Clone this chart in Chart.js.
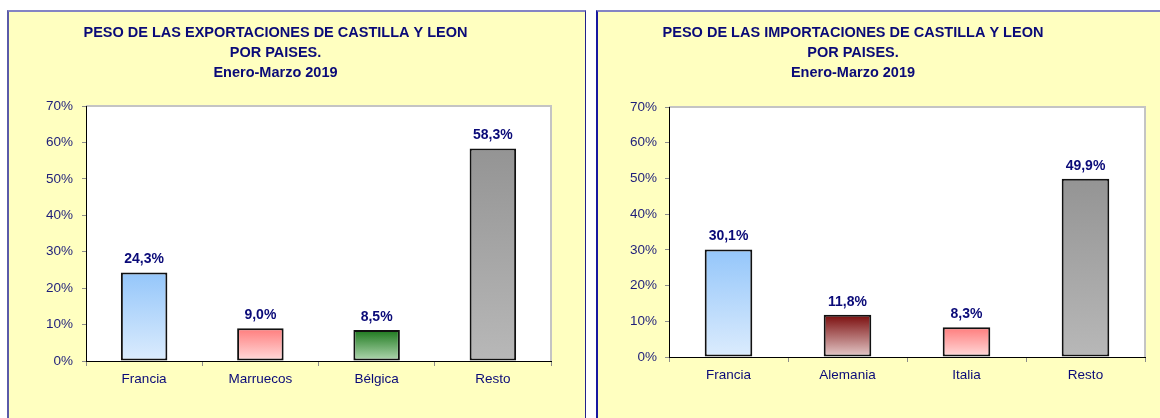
<!DOCTYPE html>
<html>
<head>
<meta charset="utf-8">
<script src="https://cdn.jsdelivr.net/npm/chart.js@4.4.0/dist/chart.umd.min.js"></script>
<style>
  body { margin: 0; width: 1160px; height: 418px; background: #fff; position: relative; overflow: hidden; }
  .panel { position: absolute; top: 10px; height: 430px; background: #ffffc0; border-top: 2px solid #8484c4; }
  #panelExp { left: 7px; width: 576px; border-left: 2px solid #5a5aa8; border-right: 1px solid #22228c; }
  #panelImp { left: 596px; width: 600px; border-left: 2px solid #1818a0; }
  canvas { position: absolute; top: 0; }
  #chartExp { left: 0; }
  #chartImp { left: 561px; }
</style>
</head>
<body>
<div class="panel" id="panelExp"></div>
<div class="panel" id="panelImp"></div>
<canvas id="chartExp" width="590" height="418"></canvas>
<canvas id="chartImp" width="599" height="418"></canvas>
<script>
// Peso de exportaciones / importaciones de Castilla y León, Enero-Marzo 2019

const expTitle = ["PESO DE LAS EXPORTACIONES DE CASTILLA Y LEON", "POR PAISES.", "Enero-Marzo 2019"];
const expCategories = ["Francia", "Marruecos", "Bélgica", "Resto"];
const expValues = [24.3, 9.0, 8.5, 58.3];

const impTitle = ["PESO DE LAS IMPORTACIONES DE CASTILLA Y LEON", "POR PAISES.", "Enero-Marzo 2019"];
const impCategories = ["Francia", "Alemania", "Italia", "Resto"];
const impValues = [30.1, 11.8, 8.3, 49.9];

const yMax = 70;
const yStep = 10;

// bar gradients, top colour -> bottom colour
const expColors = [["#94c6fa", "#dcecfd"], ["#ff7c7c", "#ffdcdc"], ["#1c781c", "#b4dab4"], ["#949494", "#b8b8b8"]];
const impColors = [["#94c6fa", "#dcecfd"], ["#7a0c0c", "#e6cccc"], ["#ff7c7c", "#ffdcdc"], ["#949494", "#b8b8b8"]];

const FONT = "Arial, 'Liberation Sans', sans-serif";
const NAVY = "#0a0a78";

function gradientFill(stops) {
    return function (c) {
        const chart = c.chart;
        const y = chart.scales.y;
        const s = stops[c.dataIndex];
        if (!chart.chartArea || !y) return s[0];
        const top = y.getPixelForValue(c.raw);
        const base = y.getPixelForValue(0);
        const g = chart.ctx.createLinearGradient(0, top, 0, base);
        g.addColorStop(0, s[0]);
        g.addColorStop(1, s[1]);
        return g;
    };
}

// white plot area with a grey frame
const plotArea = {
    id: "plotArea",
    beforeDraw(chart) {
        const { ctx, chartArea: a } = chart;
        ctx.save();
        ctx.fillStyle = "#ffffff";
        ctx.fillRect(a.left, a.top, a.right - a.left, a.bottom - a.top);
        ctx.strokeStyle = "#c4c4c4";
        ctx.lineWidth = 2;
        ctx.beginPath();
        ctx.moveTo(a.left, a.top);
        ctx.lineTo(a.right, a.top);
        ctx.lineTo(a.right, a.bottom);
        ctx.stroke();
        ctx.restore();
    }
};

// value labels above each bar
const valueLabels = {
    id: "valueLabels",
    afterDatasetsDraw(chart) {
        const ctx = chart.ctx;
        const meta = chart.getDatasetMeta(0);
        const data = chart.data.datasets[0].data;
        ctx.save();
        ctx.font = "bold 14px " + FONT;
        ctx.fillStyle = NAVY;
        ctx.textAlign = "center";
        ctx.textBaseline = "middle";
        meta.data.forEach((bar, i) => {
            const txt = data[i].toFixed(1).replace(".", ",") + "%";
            ctx.fillText(txt, bar.x, bar.y - 13);
        });
        ctx.restore();
    }
};

function makeChart(id, title, categories, values, colors, opts) {
    const ctx = document.getElementById(id).getContext("2d");
    return new Chart(ctx, {
        type: "bar",
        data: {
            labels: categories,
            datasets: [{
                data: values,
                backgroundColor: gradientFill(colors),
                borderColor: "#111111",
                borderWidth: 2,
                borderSkipped: false,
                barPercentage: 0.4,
                categoryPercentage: 1
            }]
        },
        options: {
            responsive: false,
            animation: false,
            layout: { padding: { left: 0, right: opts.right, top: 0, bottom: opts.bottom } },
            scales: {
                x: {
                    afterFit: s => { s.height = 30; },
                    grid: { drawOnChartArea: false, drawTicks: true, tickLength: 5, color: "#8c8c8c" },
                    border: { color: "#000000", width: 1 },
                    ticks: { color: NAVY, padding: 5, font: { family: FONT, size: 13.5 } }
                },
                y: {
                    min: 0,
                    max: yMax,
                    afterFit: s => { s.width = opts.yWidth; },
                    grid: { drawOnChartArea: false, drawTicks: true, tickLength: 4, color: "#8c8c8c" },
                    border: { color: "#000000", width: 1 },
                    ticks: {
                        stepSize: yStep,
                        color: "#1e1e7a",
                        padding: opts.tickPad,
                        font: { family: FONT, size: 13.5 },
                        callback: v => v + "%"
                    }
                }
            },
            plugins: {
                legend: { display: false },
                tooltip: { enabled: false },
                title: {
                    display: true,
                    text: title,
                    color: NAVY,
                    font: { family: FONT, size: 14.5, weight: "bold", lineHeight: 20 / 14.5 },
                    padding: { top: 23, bottom: opts.titleBottom }
                }
            }
        },
        plugins: [plotArea, valueLabels]
    });
}

const expChart = makeChart("chartExp", expTitle, expCategories, expValues, expColors,
    { right: 39, bottom: 27, yWidth: 86, tickPad: 9, titleBottom: 23 });
const impChart = makeChart("chartImp", impTitle, impCategories, impValues, impColors,
    { right: 15, bottom: 31, yWidth: 108, tickPad: 8, titleBottom: 24 });
expChart.update("none");
impChart.update("none");
</script>
</body>
</html>
